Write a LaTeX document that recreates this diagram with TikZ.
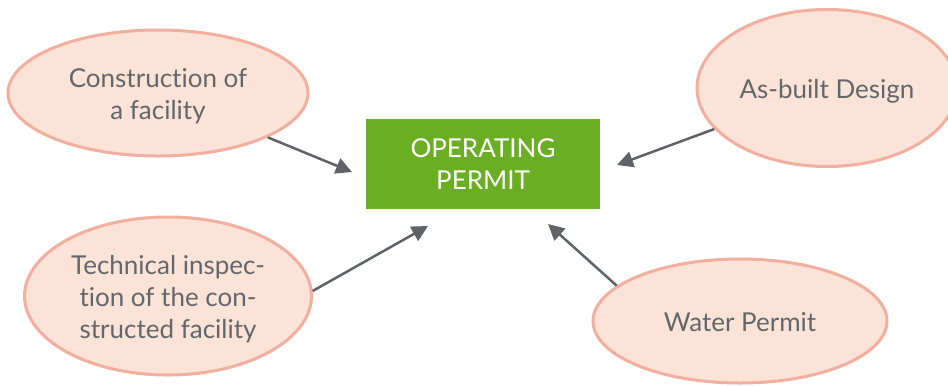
\documentclass[tikz,border=0pt]{standalone}
\usepackage{fontspec}
\setmainfont{Lato}[Ligatures=NoCommon]
\usetikzlibrary{shapes.geometric,arrows.meta}
\definecolor{ellfill}{HTML}{FBE3D8}
\definecolor{elldraw}{HTML}{F2AE9E}
\definecolor{boxgreen}{HTML}{6AAF23}
\definecolor{txtgray}{HTML}{62676C}
\definecolor{arrgray}{HTML}{5F6368}
\newcommand\droptext[1]{\raisebox{-4bp}[\height][\depth]{\begin{tabular}{@{}c@{}}#1\end{tabular}}}
\tikzset{
  bubble/.style={ellipse, draw=elldraw, fill=ellfill, line width=3bp, inner sep=0pt,
    text=txtgray, align=center, font=\fontsize{26bp}{32bp}\selectfont},
  permit/.style={rectangle, fill=boxgreen, inner sep=0pt, text=white, align=center,
    minimum width=234bp, minimum height=90bp, font=\fontsize{26bp}{32bp}\selectfont},
  arr/.style={draw=arrgray, line width=2.5bp, -{Triangle[length=16bp,width=16bp]}}
}
\begin{document}
\begin{tikzpicture}[x=1bp,y=-1bp]
\useasboundingbox (0,0) rectangle (948,385);
\node[permit] (op) at (483,164) {OPERATING\\PERMIT};
\node[bubble, minimum width=300bp, minimum height=126bp] (e1) at (158,93) {\droptext{Construction of\\a facility}};
\node[bubble, minimum width=260bp, minimum height=157bp] (e2) at (827,88) {\droptext{As-built Design}};
\node[bubble, minimum width=287bp, minimum height=158bp] (e3) at (168,296) {\droptext{Technical inspec-\\tion of the con-\\structed facility}};
\node[bubble, minimum width=294bp, minimum height=124bp] (e4) at (740,321) {\droptext{Water Permit}};
\coordinate (t1) at (352,172);
\coordinate (t2) at (617,165);
\coordinate (t3) at (428,226);
\coordinate (t4) at (548,224);
\draw[arr] (e1.338) -- (t1);
\draw[arr] (e2.200) -- (t2);
\draw[arr] (e3.2) -- (t3);
\draw[arr] (e4.164) -- (t4);
\end{tikzpicture}
\end{document}
